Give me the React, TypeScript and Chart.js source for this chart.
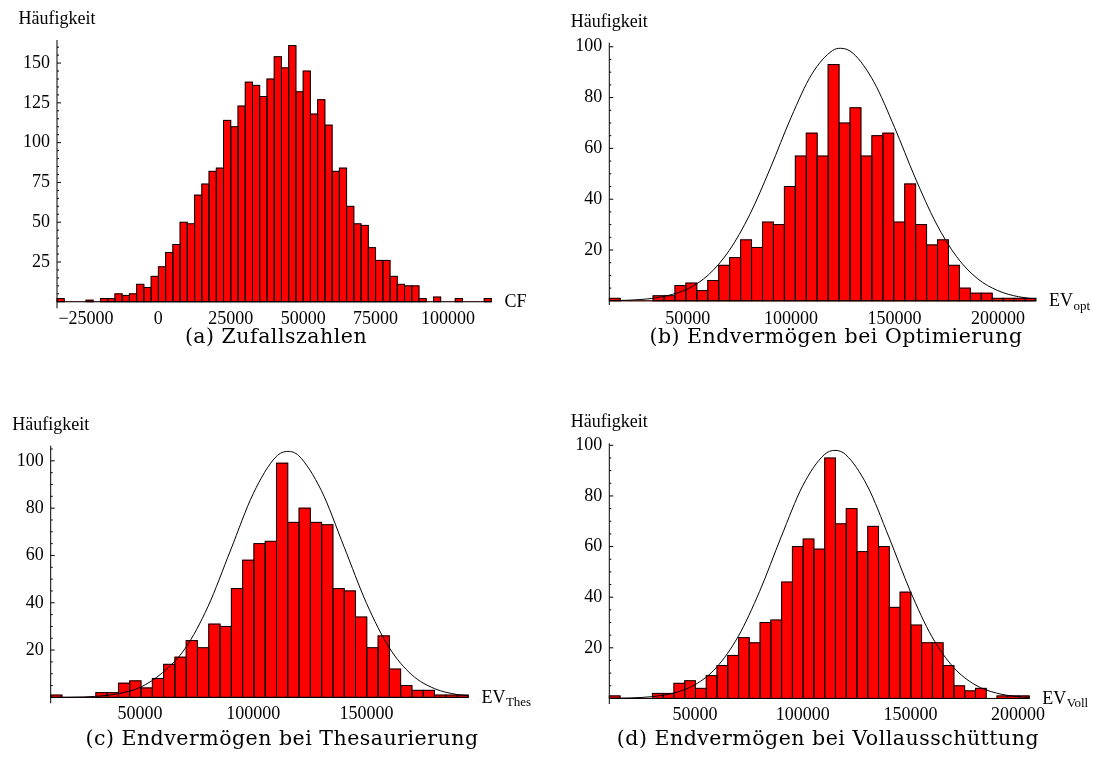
import React, { useEffect, useRef } from "react";
import { Chart, registerables } from "chart.js";

Chart.register(...registerables);

const SERIF = '"Liberation Serif", "Times New Roman", Times, serif';
const CAPTION_FONT = '"DejaVu Serif", "Liberation Serif", serif';

// ---------- (a) Zufallszahlen: CF ----------
const cfBinStart = -35000;
const cfBinWidth = 2500;
const cfCounts = [
  2, 0, 0, 0, 1, 0, 2, 2, 5, 4, 5, 11, 9, 16, 22, 31, 36, 50, 49, 67, 74, 82, 84, 114, 110, 123, 138, 136, 129, 140,
  154, 147, 161, 132, 145, 118, 127, 111, 82, 84, 60, 49, 48, 34, 26, 26, 16, 11, 10, 10, 2, 0, 3, 0, 0, 2, 0, 0, 0, 2,
];
const cfXTicks = [-25000, 0, 25000, 50000, 75000, 100000];
const cfYTicks = [25, 50, 75, 100, 125, 150];

// ---------- (b) Endvermögen bei Optimierung: EV_opt ----------
const optBinStart = 12100;
const optBinWidth = 5290;
const optCounts = [
  1, 0, 0, 0, 2, 2, 6, 7, 4, 8, 14, 17, 24, 21, 31, 30, 45, 57, 66, 57, 93, 70, 76, 57, 65, 66, 31, 46, 30, 22, 24, 14,
  5, 3, 3, 1, 1, 1, 1,
];
const optCurveX = [
  12100, 20000, 30000, 40000, 50000, 60000, 70000, 80000, 90000, 100000, 110000, 120000, 124000, 130000, 140000,
  150000, 160000, 170000, 180000, 190000, 200000, 210000, 218400,
];
const optCurveY = [
  0.1, 0.2, 0.7, 2.0, 4.7, 10.2, 19.7, 33.9, 52.3, 72.2, 89.2, 98.5, 99.4, 97.4, 86.2, 68.3, 48.4, 30.7, 17.4, 8.8,
  4.0, 1.6, 0.7,
];
const optXTicks = [50000, 100000, 150000, 200000];

// ---------- (c) Endvermögen bei Thesaurierung: EV_Thes ----------
const thesBinStart = 10590;
const thesBinWidth = 4982;
const thesCounts = [
  1, 0, 0, 0, 2, 2, 6, 7, 4, 8, 14, 17, 24, 21, 31, 30, 46, 58, 65, 66, 99, 74, 80, 74, 73, 46, 45, 34, 21, 26, 12, 5,
  3, 3, 1, 1, 1,
];
const thesCurveX = [
  10590, 20000, 30000, 40000, 50000, 60000, 70000, 80000, 90000, 100000, 110000, 115300, 120000, 130000, 140000,
  150000, 160000, 170000, 180000, 190000, 194900,
];
const thesCurveY = [
  0.0, 0.1, 0.4, 1.5, 4.2, 10.5, 20.8, 38.4, 62.3, 86.2, 101.7, 104.0, 102.2, 87.5, 63.8, 39.7, 21.0, 9.5, 3.7, 1.2,
  0.7,
];
const thesXTicks = [50000, 100000, 150000];

// ---------- (d) Endvermögen bei Vollausschüttung: EV_Voll ----------
const vollBinStart = 10210;
const vollBinWidth = 5000;
const vollCounts = [
  1, 0, 0, 0, 2, 2, 6, 7, 4, 9, 13, 17, 24, 22, 30, 31, 46, 60, 63, 59, 95, 69, 75, 58, 68, 60, 36, 42, 29, 22, 22, 13,
  5, 3, 4, 0, 1, 1, 1,
];
const vollCurveX = [
  10210, 20000, 30000, 40000, 50000, 60000, 70000, 80000, 90000, 100000, 110000, 115000, 120000, 130000, 140000,
  150000, 160000, 170000, 180000, 190000, 200000, 205210,
];
const vollCurveY = [
  0.05, 0.2, 0.7, 2.1, 5.4, 12.3, 24.4, 42.3, 63.8, 84.0, 96.3, 98.0, 96.3, 84.0, 63.8, 42.3, 24.4, 12.3, 5.4, 2.1,
  0.7, 0.4,
];
const vollXTicks = [50000, 100000, 150000, 200000];

const evYTicks = [20, 40, 60, 80, 100];

// ---------- layout ----------
type PanelCfg = {
  id: string;
  canvas: { left: number; top: number; w: number; h: number };
  area: { l: number; r: number; t: number; b: number };
  yMin: number;
  yMax: number;
  binStart: number;
  binWidth: number;
  counts: number[];
  curveX?: number[];
  curveY?: number[];
  xTicks: number[];
  yTicks: number[];
  minorStep: number;
  xTickPad: number;
  xLabel: string;
  xSub?: string;
  caption: string;
  capX: number;
  capY: number;
};

const panels: PanelCfg[] = [
  {
    id: "a",
    canvas: { left: 0, top: 0, w: 545, h: 340 },
    area: { l: 57, r: 491.4, t: 40, b: 308.3 },
    yMin: -4.1,
    yMax: 164.5,
    binStart: cfBinStart,
    binWidth: cfBinWidth,
    counts: cfCounts,
    xTicks: cfXTicks,
    yTicks: cfYTicks,
    minorStep: 5,
    xTickPad: 0,
    xLabel: "CF",
    caption: "(a) Zufallszahlen",
    capX: 276,
    capY: 336,
  },
  {
    id: "b",
    canvas: { left: 546, top: 0, w: 547, h: 340 },
    area: { l: 609.3, r: 1036, t: 42.7, b: 305 },
    yMin: -1.65,
    yMax: 101.6,
    binStart: optBinStart,
    binWidth: optBinWidth,
    counts: optCounts,
    curveX: optCurveX,
    curveY: optCurveY,
    xTicks: optXTicks,
    yTicks: evYTicks,
    minorStep: 5,
    xTickPad: 3,
    xLabel: "EV",
    xSub: "opt",
    caption: "(b) Endvermögen bei Optimierung",
    capX: 836,
    capY: 336,
  },
  {
    id: "c",
    canvas: { left: 0, top: 400, w: 545, h: 340 },
    area: { l: 50.7, r: 468.4, t: 445.7, b: 703.3 },
    yMin: -2.5,
    yMax: 106.4,
    binStart: thesBinStart,
    binWidth: thesBinWidth,
    counts: thesCounts,
    curveX: thesCurveX,
    curveY: thesCurveY,
    xTicks: thesXTicks,
    yTicks: evYTicks,
    minorStep: 5,
    xTickPad: 0,
    xLabel: "EV",
    xSub: "Thes",
    caption: "(c) Endvermögen bei Thesaurierung",
    capX: 282,
    capY: 738,
  },
  {
    id: "d",
    canvas: { left: 546, top: 400, w: 547, h: 340 },
    area: { l: 609.3, r: 1029.3, t: 443.3, b: 704 },
    yMin: -2.2,
    yMax: 100.8,
    binStart: vollBinStart,
    binWidth: vollBinWidth,
    counts: vollCounts,
    curveX: vollCurveX,
    curveY: vollCurveY,
    xTicks: vollXTicks,
    yTicks: evYTicks,
    minorStep: 5,
    xTickPad: 0,
    xLabel: "EV",
    xSub: "Voll",
    caption: "(d) Endvermögen bei Vollausschüttung",
    capX: 828,
    capY: 738,
  },
];

const fmt = (v: number) => (v < 0 ? "\u2212" + Math.abs(v) : String(v));

function makePlugin(cfg: PanelCfg) {
  return {
    id: "histAxes" + cfg.id,
    afterDatasetDraw(chart: any, args: any) {
      const meta = args.meta;
      if (meta.type !== "bar") return;
      const ctx = chart.ctx;
      ctx.save();
      ctx.strokeStyle = "#000";
      ctx.lineWidth = 1;
      meta.data.forEach((el: any) => {
        const p = el.getProps(["x", "y", "base", "width"], true);
        const h = p.base - p.y;
        if (h < 0.5) return;
        ctx.strokeRect(p.x - p.width / 2, p.y, p.width, h);
      });
      ctx.restore();
    },
    afterDatasetsDraw(chart: any) {
      const { ctx, chartArea, scales } = chart;
      const ys = scales.y;
      const y0 = ys.getPixelForValue(0);
      ctx.save();
      ctx.strokeStyle = "#000";
      ctx.lineWidth = 1;
      // x axis at 0
      ctx.beginPath();
      ctx.moveTo(chartArea.left, y0);
      ctx.lineTo(chartArea.right, y0);
      ctx.stroke();
      // y axis
      const ax = chartArea.left;
      ctx.beginPath();
      ctx.moveTo(ax, chartArea.top);
      ctx.lineTo(ax, chartArea.bottom);
      ctx.stroke();
      // inward ticks
      ctx.beginPath();
      for (let v = cfg.minorStep; v <= ys.max; v += cfg.minorStep) {
        const py = ys.getPixelForValue(v);
        const len = cfg.yTicks.includes(v) ? 4 : 2;
        ctx.moveTo(ax, py);
        ctx.lineTo(ax + len, py);
      }
      ctx.stroke();
      // texts
      ctx.fillStyle = "#000";
      ctx.font = `18px ${SERIF}`;
      ctx.textAlign = "center";
      ctx.textBaseline = "alphabetic";
      ctx.fillText("Häufigkeit", ax, chartArea.top - 16);
      ctx.textAlign = "left";
      const lx = chartArea.right + 13;
      ctx.fillText(cfg.xLabel, lx, y0 + 5.5);
      if (cfg.xSub) {
        const w = ctx.measureText(cfg.xLabel).width;
        ctx.font = `13px ${SERIF}`;
        ctx.fillText(cfg.xSub, lx + w + 0.5, y0 + 9);
      }
      ctx.restore();
    },
  };
}

function Panel({ cfg }: { cfg: PanelCfg }) {
  const ref = useRef<HTMLCanvasElement>(null);
  useEffect(() => {
    const c = cfg.canvas;
    const yAxisWidth = cfg.area.l - c.left;
    const xAxisHeight = c.top + c.h - cfg.area.b;
    const padRight = c.left + c.w - cfg.area.r;
    const padTop = cfg.area.t - c.top;
    const n = cfg.counts.length;
    const xMin = cfg.binStart;
    const xMax = cfg.binStart + n * cfg.binWidth;
    const bars = cfg.counts.map((v, i) => ({ x: cfg.binStart + (i + 0.5) * cfg.binWidth, y: v }));
    const datasets: any[] = [
      {
        type: "bar",
        data: bars,
        backgroundColor: "#ff0000",
        borderWidth: 0,
        barPercentage: 1,
        categoryPercentage: 1,
        order: 2,
      },
    ];
    if (cfg.curveX && cfg.curveY) {
      const cy = cfg.curveY;
      datasets.push({
        type: "line",
        data: cfg.curveX.map((x, i) => ({ x, y: cy[i] })),
        borderColor: "#000",
        borderWidth: 1,
        pointRadius: 0,
        cubicInterpolationMode: "monotone",
        fill: false,
        order: 1,
      });
    }
    const tickFont = { family: SERIF, size: 18 };
    const chart = new Chart(ref.current as HTMLCanvasElement, {
      type: "bar",
      data: { datasets },
      options: {
        animation: false,
        responsive: false,
        maintainAspectRatio: false,
        devicePixelRatio: 1,
        events: [],
        layout: { padding: { left: 0, right: padRight, top: padTop, bottom: 0 } },
        plugins: { legend: { display: false }, tooltip: { enabled: false }, title: { display: false } },
        scales: {
          x: {
            type: "linear",
            min: xMin,
            max: xMax,
            offset: false,
            grid: { display: false, drawTicks: false, offset: false },
            border: { display: false },
            afterBuildTicks: (s: any) => {
              s.ticks = cfg.xTicks.map((v) => ({ value: v }));
            },
            afterFit: (s: any) => {
              s.height = xAxisHeight;
            },
            ticks: {
              autoSkip: false,
              maxRotation: 0,
              minRotation: 0,
              padding: cfg.xTickPad,
              color: "#000",
              font: tickFont,
              callback: (v: any) => fmt(Number(v)),
            },
          },
          y: {
            type: "linear",
            min: cfg.yMin,
            max: cfg.yMax,
            grid: { display: false, drawTicks: false },
            border: { display: false },
            afterBuildTicks: (s: any) => {
              s.ticks = cfg.yTicks.map((v) => ({ value: v }));
            },
            afterFit: (s: any) => {
              s.width = yAxisWidth;
            },
            ticks: {
              padding: 7,
              color: "#000",
              font: tickFont,
              callback: (v: any) => String(v),
            },
          },
        },
      } as any,
      plugins: [makePlugin(cfg)],
    });
    return () => chart.destroy();
  }, [cfg]);
  const c = cfg.canvas;
  return (
    <div style={{ position: "absolute", left: c.left, top: c.top, width: c.w, height: c.h }}>
      <canvas ref={ref} width={c.w} height={c.h} style={{ width: c.w, height: c.h, display: "block" }} />
    </div>
  );
}

export default function App() {
  return (
    <div style={{ position: "absolute", left: 0, top: 0, width: 1093, height: 775, background: "#fff", overflow: "hidden" }}>
      {panels.map((p) => (
        <Panel key={p.id} cfg={p} />
      ))}
      {panels.map((p) => (
        <div
          key={"cap" + p.id}
          style={{
            position: "absolute",
            left: p.capX - 300,
            top: p.capY - 13,
            width: 600,
            height: 26,
            lineHeight: "26px",
            textAlign: "center",
            fontFamily: CAPTION_FONT,
            fontSize: 20.5,
            letterSpacing: "0.5px",
            color: "#000",
            whiteSpace: "nowrap",
          }}
        >
          {p.caption}
        </div>
      ))}
    </div>
  );
}
